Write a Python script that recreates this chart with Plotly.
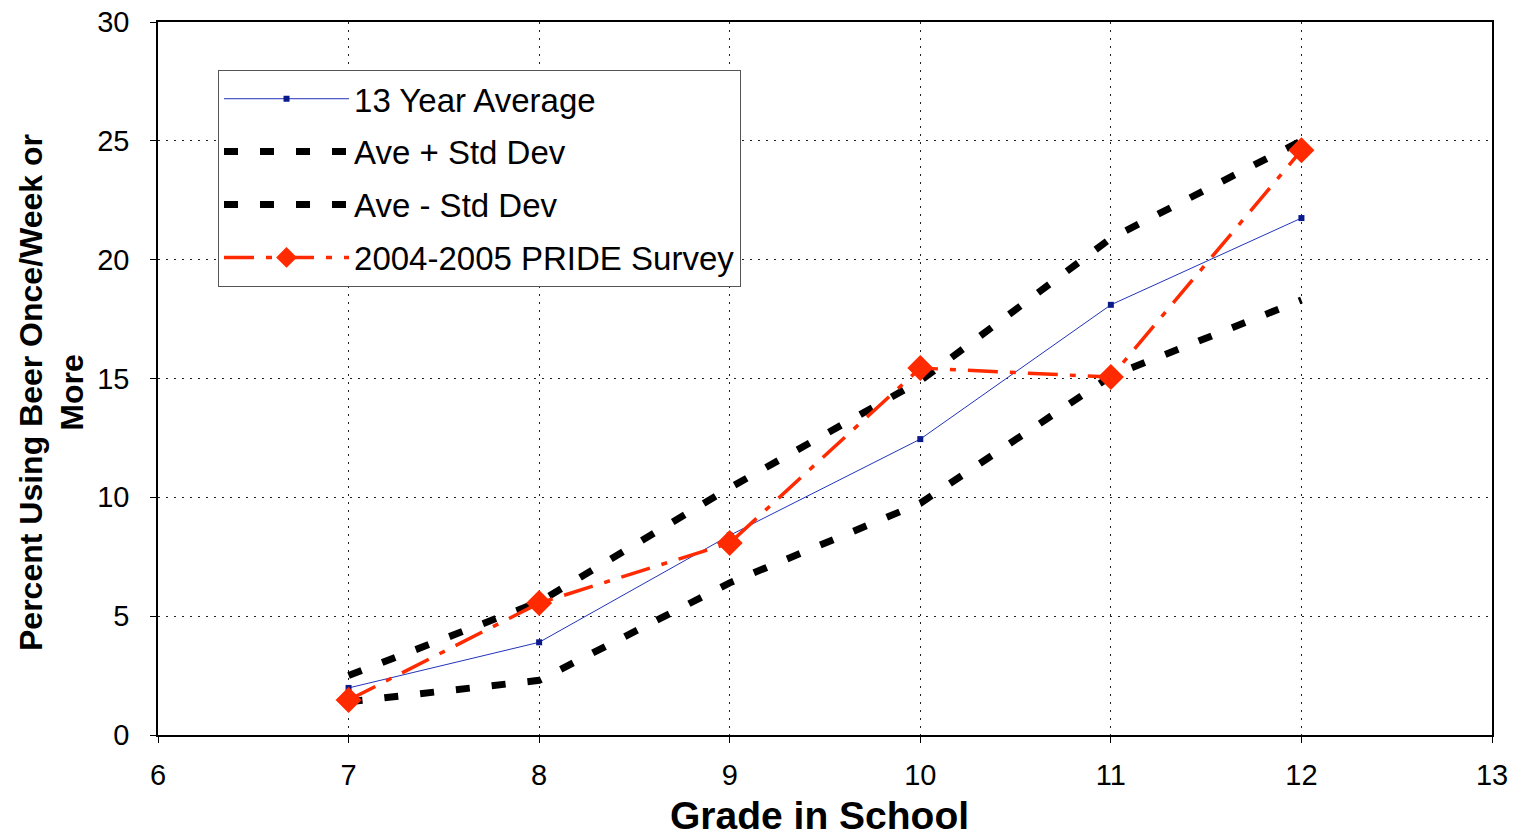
import plotly.graph_objects as go

grades = [7, 8, 9, 10, 11, 12]
avg_13yr = [1.98, 3.9, 8.4, 12.45, 18.1, 21.75]
ave_plus_sd = [2.5, 5.6, 10.4, 14.9, 20.9, 25.0]
ave_minus_sd = [1.4, 2.3, 6.4, 9.75, 15.1, 18.3]
pride_0405 = [1.47, 5.55, 8.08, 15.44, 15.06, 24.6]

FONT = "Liberation Sans, Arial, sans-serif"

fig = go.Figure()
fig.add_trace(go.Scatter(
    x=grades, y=avg_13yr, name="13 Year Average", mode="lines+markers",
    line=dict(color="#2233bb", width=1),
    marker=dict(symbol="square", size=6, color="#0a1a8a"),
    legendgroup="a"))
fig.add_trace(go.Scatter(
    x=grades, y=ave_plus_sd, name="Ave + Std Dev", mode="lines",
    line=dict(color="black", width=7, dash="14px,22px"),
    legendgroup="b"))
fig.add_trace(go.Scatter(
    x=grades, y=ave_minus_sd, name="Ave - Std Dev", mode="lines",
    line=dict(color="black", width=7, dash="14px,22px"),
    legendgroup="c"))
fig.add_trace(go.Scatter(
    x=grades, y=pride_0405, name="2004-2005 PRIDE Survey", mode="lines+markers",
    line=dict(color="#ff2a00", width=3.5, dash="30px,12px,6px,12px"),
    marker=dict(symbol="diamond", size=20, color="#ff2a00"),
    legendgroup="d"))

fig.update_layout(
    width=1516, height=840,
    margin=dict(l=158, r=24, t=22, b=105, autoexpand=False),
    paper_bgcolor="white", plot_bgcolor="white",
    font=dict(family=FONT, size=29, color="black"),
    showlegend=True,
    legend=dict(
        x=0.045, y=0.933, xanchor="left", yanchor="top",
        bgcolor="white", bordercolor="#555555", borderwidth=1,
        font=dict(size=33, family=FONT),
        tracegroupgap=7, traceorder="grouped", itemwidth=125,
    ),
    xaxis=dict(
        range=[6, 13], dtick=1, tick0=6,
        showline=True, linecolor="black", linewidth=1.5, mirror=True,
        ticks="outside", ticklen=6, tickcolor="black",
        showgrid=True, gridcolor="#222222", griddash="2px,6px", gridwidth=1,
        zeroline=False, automargin=False,
        tickfont=dict(size=29),
        ticklabelstandoff=7,
    ),
    yaxis=dict(
        range=[0, 30], dtick=5,
        showline=True, linecolor="black", linewidth=1.5, mirror=True,
        ticks="outside", ticklen=6, tickcolor="black",
        showgrid=True, gridcolor="#222222", griddash="2px,6px", gridwidth=1,
        zeroline=False, automargin=False,
        tickfont=dict(size=29),
        ticklabelstandoff=15,
    ),
    annotations=[
        dict(text="<b>Grade in School</b>", xref="paper", yref="paper",
             x=0.496, y=-0.1136, xanchor="center", yanchor="middle",
             showarrow=False, font=dict(size=39, family=FONT)),
        dict(text="<b>Percent Using Beer Once/Week or<br>More</b>", xref="paper", yref="paper",
             x=-0.0795, y=0.481, xanchor="center", yanchor="middle", textangle=-90,
             showarrow=False, font=dict(size=32, family=FONT)),
    ],
)

fig.write_html("out.html", config={"displayModeBar": False},
               post_script="document.body.style.margin='0px';")
